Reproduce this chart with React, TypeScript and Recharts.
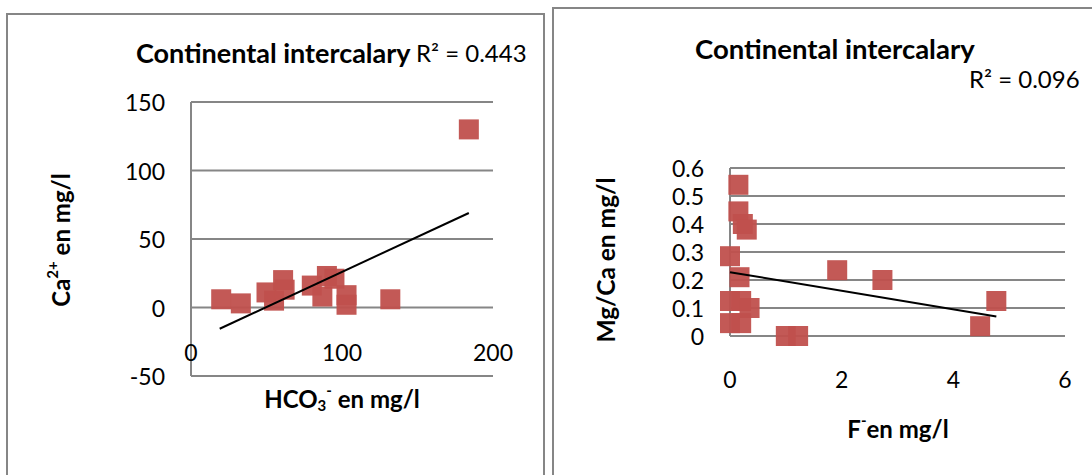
import { ScatterChart, Scatter, XAxis, YAxis, CartesianGrid } from "recharts";

// left chart: HCO3- vs Ca2+
const hco3 = [20, 33, 50, 55, 61, 62, 80, 87, 90, 95, 103, 103, 132, 184];
const calcium = [6, 3, 11, 5, 20, 13, 16, 8, 23, 21, 9, 2, 6, 130];
const trendLeftX = [19, 184];
const trendLeftY = [-15.5, 69];
const leftXTicks = [0, 100, 200];
const leftYTicks = [-50, 0, 50, 100, 150];

// right chart: F- vs Mg/Ca
const fluoride = [0.15, 0.15, 0.23, 0.3, 0, 0.17, 0, 0.2, 0.35, 0, 0.2, 1.0, 1.22, 1.92, 2.73, 4.77, 4.48];
const mgCa = [0.54, 0.445, 0.4, 0.38, 0.285, 0.21, 0.125, 0.125, 0.1, 0.046, 0.046, 0, 0, 0.235, 0.2, 0.125, 0.035];
const trendRightX = [0, 4.77];
const trendRightY = [0.228, 0.07];
const rightXTicks = [0, 2, 4, 6];
const rightYTicks = [0, 0.1, 0.2, 0.3, 0.4, 0.5, 0.6];

const FONT = "Lato, 'Open Sans', sans-serif";
const GRID = "#868686";
const MARK = "#C0504D";

const zip = (xs: number[], ys: number[]) => xs.map((x, i) => ({ x, y: ys[i] }));

const Square = (props: any) => (
  <rect x={props.cx - 10} y={props.cy - 10} width={20} height={20} fill={MARK} fillOpacity={0.95} />
);
const NoShape = () => <g />;

const makeXTick = (off: number) => (props: any) => (
  <text x={props.x} y={props.y + off} textAnchor="middle" dominantBaseline="central"
    fontFamily={FONT} fontSize={23} fill="#000">
    {props.payload.value}
  </text>
);

const YTick = (props: any) => (
  <text x={props.x - 26} y={props.y} textAnchor="end" dominantBaseline="central"
    fontFamily={FONT} fontSize={23} fill="#000">
    {props.payload.value}
  </text>
);

export default function App() {
  return (
    <div style={{ position: "absolute", left: 0, top: 0, width: 1092, height: 475, background: "#fff", overflow: "hidden" }}>
      <div style={{ position: "absolute", left: 6, top: 13, width: 539, height: 480, border: `2px solid ${GRID}`, boxSizing: "border-box" }} />
      <div style={{ position: "absolute", left: 552, top: 7, width: 560, height: 480, border: `2px solid ${GRID}`, boxSizing: "border-box" }} />

      <div style={{ position: "absolute", left: 0, top: 0 }}>
        <ScatterChart width={545} height={475} margin={{ top: 102, right: 52, bottom: 59, left: 131 }}>
          <CartesianGrid vertical={false} stroke={GRID} strokeWidth={2} />
          <XAxis type="number" dataKey="x" domain={[0, 200]} ticks={leftXTicks} axisLine={false}
            tickLine={false} tickSize={0} tickMargin={0} height={40} tick={makeXTick(-24)} />
          <YAxis type="number" dataKey="y" domain={[-50, 150]} ticks={leftYTicks} width={60}
            axisLine={{ stroke: GRID, strokeWidth: 2 }} tickLine={false} tickSize={0} tickMargin={0} tick={YTick} />
          <Scatter data={zip(hco3, calcium)} shape={Square} isAnimationActive={false} />
          <Scatter data={zip(trendLeftX, trendLeftY)} line={{ stroke: "#000", strokeWidth: 2 }}
            shape={NoShape} isAnimationActive={false} />
        </ScatterChart>
      </div>

      <div style={{ position: "absolute", left: 552, top: 0 }}>
        <ScatterChart width={540} height={475} margin={{ top: 168, right: 27, bottom: 99, left: 118 }}>
          <CartesianGrid vertical={false} stroke={GRID} strokeWidth={2} />
          <XAxis type="number" dataKey="x" domain={[0, 6]} ticks={rightXTicks} axisLine={false}
            tickLine={false} tickSize={0} tickMargin={0} height={40} tick={makeXTick(43)} />
          <YAxis type="number" dataKey="y" domain={[0, 0.6]} ticks={rightYTicks} width={60}
            axisLine={{ stroke: GRID, strokeWidth: 2 }} tickLine={false} tickSize={0} tickMargin={0} tick={YTick} />
          <Scatter data={zip(fluoride, mgCa)} shape={Square} isAnimationActive={false} />
          <Scatter data={zip(trendRightX, trendRightY)} line={{ stroke: "#000", strokeWidth: 2 }}
            shape={NoShape} isAnimationActive={false} />
        </ScatterChart>
      </div>

      <svg width={1092} height={475} style={{ position: "absolute", left: 0, top: 0, pointerEvents: "none" }}
        fontFamily={FONT} fill="#000">
        {/* left titles */}
        <text x={136} y={52} fontSize={27} fontWeight="bold" dominantBaseline="central">Continental intercalary</text>
        <text x={416} y={52} fontSize={24} dominantBaseline="central">R² = 0.443</text>
        <text x={342} y={398} fontSize={24} fontWeight="bold" textAnchor="middle" dominantBaseline="central">
          HCO<tspan dy={7} fontSize={15}>3</tspan><tspan dy={-15} fontSize={15}>-</tspan><tspan dy={8}> en mg/l</tspan>
        </text>
        <text x={60} y={240} fontSize={24} fontWeight="bold" textAnchor="middle" dominantBaseline="central"
          transform="rotate(-90 60 240)">
          Ca<tspan dy={-8} fontSize={15}>2+</tspan><tspan dy={8}> en mg/l</tspan>
        </text>

        {/* right titles */}
        <text x={695} y={48} fontSize={27.5} fontWeight="bold" dominantBaseline="central">Continental intercalary</text>
        <text x={969} y={78} fontSize={24} dominantBaseline="central">R² = 0.096</text>
        <text x={898} y={428} fontSize={24} fontWeight="bold" textAnchor="middle" dominantBaseline="central">
          F<tspan dy={-8} fontSize={15}>-</tspan><tspan dy={8}>en mg/l</tspan>
        </text>
        <text x={605} y={260} fontSize={24.5} fontWeight="bold" textAnchor="middle" dominantBaseline="central"
          transform="rotate(-90 605 260)">
          Mg/Ca en mg/l
        </text>
      </svg>
    </div>
  );
}
